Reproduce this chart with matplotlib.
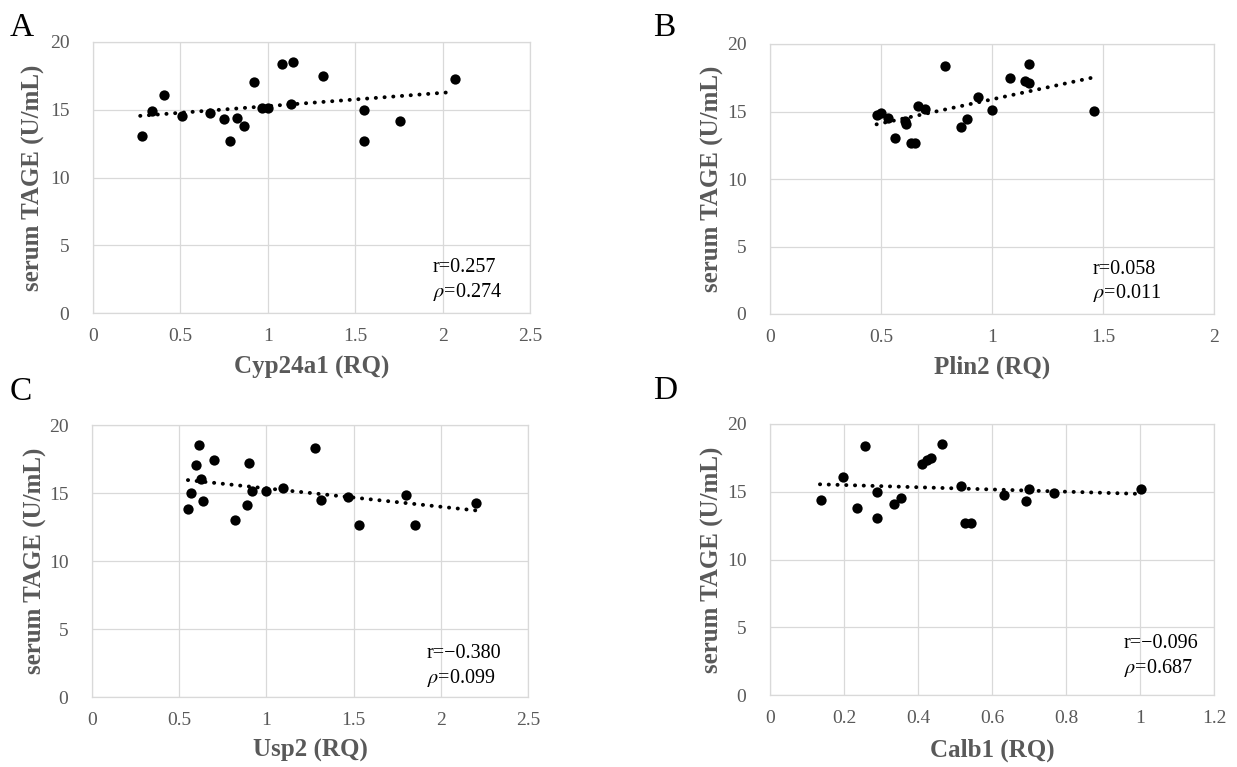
import matplotlib
matplotlib.use("Agg")
import matplotlib.pyplot as plt
import numpy as np

# ---------------- data ----------------
# Panel A: Cyp24a1
a_x = [0.282, 0.340, 0.406, 0.511, 0.668, 0.750, 0.786, 0.821, 0.861, 0.920,
       0.968, 1.002, 1.080, 1.147, 1.132, 1.313, 1.548, 1.552, 1.758, 2.073]
a_y = [13.04, 14.88, 16.06, 14.54, 14.76, 14.29, 12.67, 14.42, 13.80, 17.05,
       15.15, 15.15, 18.35, 18.52, 15.45, 17.47, 15.01, 12.69, 14.15, 17.25]
a_trend_x = [0.27, 2.05]
a_trend_y = [14.55, 16.30]

# Panel B: Plin2
b_x = [0.483, 0.498, 0.530, 0.565, 0.608, 0.611, 0.634, 0.653, 0.665, 0.697,
       0.788, 0.860, 0.887, 0.935, 1.002, 1.081, 1.149, 1.165, 1.165, 1.461]
b_y = [14.76, 14.88, 14.51, 13.05, 14.26, 14.09, 12.66, 12.66, 15.43, 15.18,
       18.39, 13.82, 14.41, 16.07, 15.13, 17.45, 17.23, 17.11, 18.54, 15.01]
b_trend_x = [0.48, 1.45]
b_trend_y = [14.05, 17.50]

# Panel C: Usp2
c_x = [0.613, 0.594, 0.699, 0.899, 0.625, 0.570, 0.636, 0.552, 0.819, 0.886,
       0.916, 1.000, 1.097, 1.278, 1.314, 1.467, 1.531, 1.798, 1.853, 2.204]
c_y = [18.50, 17.03, 17.45, 17.23, 16.02, 14.99, 14.40, 13.79, 13.03, 14.09,
       15.17, 15.14, 15.39, 18.33, 14.48, 14.70, 12.64, 14.87, 12.64, 14.28]
c_trend_x = [0.55, 2.20]
c_trend_y = [15.95, 13.72]

# Panel D: Calb1
d_x = [0.137, 0.198, 0.235, 0.256, 0.290, 0.289, 0.336, 0.354, 0.410, 0.423,
       0.435, 0.465, 0.515, 0.527, 0.544, 0.632, 0.692, 0.701, 0.767, 1.002]
d_y = [14.42, 16.07, 13.83, 18.40, 15.01, 13.07, 14.13, 14.55, 17.08, 17.32,
       17.49, 18.55, 15.45, 12.68, 12.68, 14.77, 14.32, 15.21, 14.91, 15.18]
d_trend_x = [0.135, 0.99]
d_trend_y = [15.55, 14.85]

letters = ["A", "B", "C", "D"]
xlabels = ["Cyp24a1 (RQ)", "Plin2 (RQ)", "Usp2 (RQ)", "Calb1 (RQ)"]
ylabel = "serum TAGE (U/mL)"
r_texts = ["r=0.257", "r=0.058", "r=\u22120.380", "r=\u22120.096"]
rho_texts = ["0.274", "0.011", "0.099", "0.687"]
x_ticks = [[0, 0.5, 1, 1.5, 2, 2.5],
           [0, 0.5, 1, 1.5, 2],
           [0, 0.5, 1, 1.5, 2, 2.5],
           [0, 0.2, 0.4, 0.6, 0.8, 1, 1.2]]
x_ticklabels = [["0", "0.5", "1", "1.5", "2", "2.5"],
                ["0", "0.5", "1", "1.5", "2"],
                ["0", "0.5", "1", "1.5", "2", "2.5"],
                ["0", "0.2", "0.4", "0.6", "0.8", "1", "1.2"]]
y_ticks = [0, 5, 10, 15, 20]

# ---------------- style ----------------
plt.rcParams['font.family'] = ['Liberation Serif', 'DejaVu Serif']
plt.rcParams['mathtext.fontset'] = 'stix'

W, H = 1237, 767
fig = plt.figure(figsize=(W / 100, H / 100), dpi=100)

def fx(px):
    return px / W

def fy(py):
    return 1 - py / H

# axes boxes in pixels: left, top, right, bottom
boxes = [(93, 42, 530, 313), (770, 44, 1214, 314),
         (92, 425, 528, 697), (770, 424, 1214, 695)]
letter_pos = [(10, 36), (653, 36), (10, 400), (653, 399)]
ylabel_x = [33, 712, 35, 712]
xlabel_y = [367, 367, 750, 750]
annot_pos = [(433, 268, 292), (1093, 269, 293), (427, 654, 678), (1124, 644, 668)]

xs = [a_x, b_x, c_x, d_x]
ys = [a_y, b_y, c_y, d_y]
txs = [a_trend_x, b_trend_x, c_trend_x, d_trend_x]
tys = [a_trend_y, b_trend_y, c_trend_y, d_trend_y]

grid_c = "#d9d9d9"
tick_c = "#595959"

for i in range(4):
    l, t, r, b = boxes[i]
    ax = fig.add_axes([fx(l), fy(b), fx(r) - fx(l), (b - t) / H])
    ax.set_xlim(x_ticks[i][0], x_ticks[i][-1])
    ax.set_ylim(0, 20)
    ax.set_xticks(x_ticks[i])
    ax.set_xticklabels(x_ticklabels[i])
    ax.set_yticks(y_ticks)
    ax.tick_params(length=0, labelsize=14, colors=tick_c)
    ax.tick_params(axis='x', pad=11)
    ax.tick_params(axis='y', pad=17)
    ax.grid(True, color=grid_c, linewidth=0.9)
    ax.set_axisbelow(True)
    for s in ax.spines.values():
        s.set_color(grid_c)
        s.set_linewidth(0.9)

    ax.plot(txs[i], tys[i], color='black', linewidth=2.8,
            linestyle=(0, (0.05, 2.2)), dash_capstyle='round', zorder=2)
    ax.scatter(xs[i], ys[i], s=55, color='black', zorder=3, linewidths=0)

    ax.set_xlabel(xlabels[i], fontsize=18, fontweight='bold', color=tick_c)
    ax.xaxis.set_label_coords(0.5, (b - xlabel_y[i]) / (b - t))
    ax.xaxis.label.set_va('center')
    ax.set_ylabel(ylabel, fontsize=18, fontweight='bold', color=tick_c)
    ax.yaxis.set_label_coords((ylabel_x[i] - l) / (r - l), 0.5)
    ax.yaxis.label.set_va('center')

    axp, l1, l2 = annot_pos[i]
    fig.text(fx(axp), fy(l1), r_texts[i], fontsize=14.5, color='black', va='center', ha='left')
    fig.text(fx(axp), fy(l2), r'$\rho$=' + rho_texts[i], fontsize=14.5, color='black',
             va='center', ha='left')

    lx, ly = letter_pos[i]
    fig.text(fx(lx), fy(ly), letters[i], fontsize=24, color='black', ha='left', va='baseline')

fig.savefig("out.png", dpi=100)
